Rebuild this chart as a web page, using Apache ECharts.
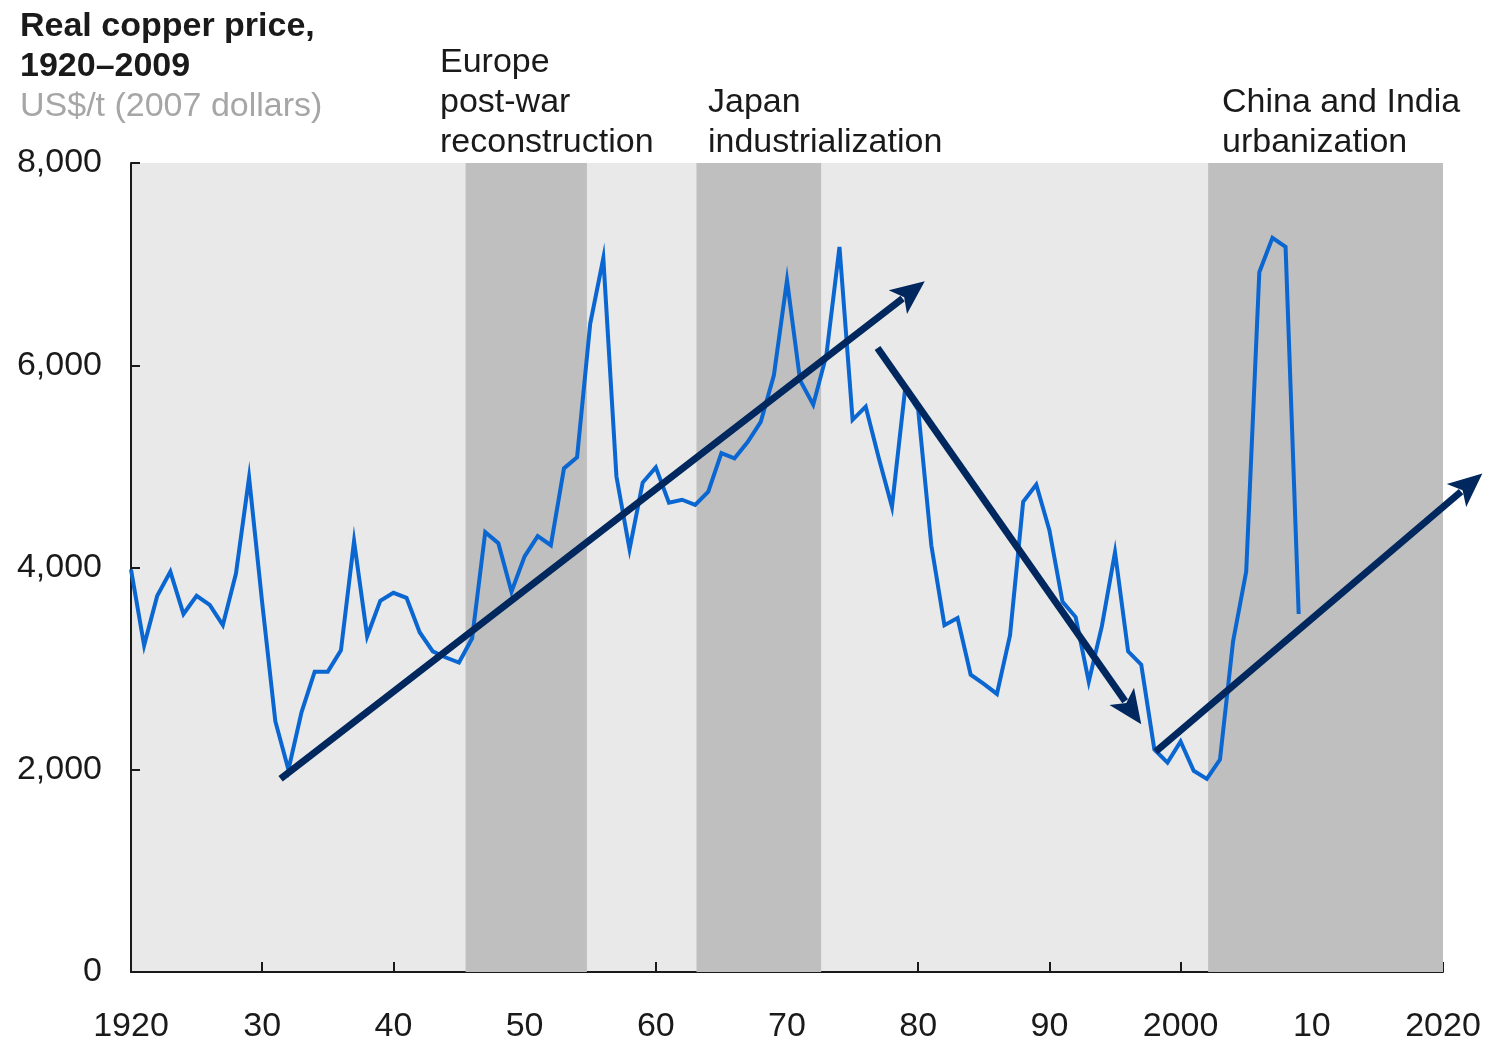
<!DOCTYPE html>
<html>
<head>
<meta charset="utf-8">
<script src="https://cdn.jsdelivr.net/npm/echarts@6/dist/echarts.min.js"></script>
<style>
html,body{margin:0;padding:0;background:#fff;}
#chart{width:1486px;height:1044px;}
</style>
</head>
<body>
<div id="chart"></div>
<script>
// ---- data ----
var years = [1920,1921,1922,1923,1924,1925,1926,1927,1928,1929,
             1930,1931,1932,1933,1934,1935,1936,1937,1938,1939,
             1940,1941,1942,1943,1944,1945,1946,1947,1948,1949,
             1950,1951,1952,1953,1954,1955,1956,1957,1958,1959,
             1960,1961,1962,1963,1964,1965,1966,1967,1968,1969,
             1970,1971,1972,1973,1974,1975,1976,1977,1978,1979,
             1980,1981,1982,1983,1984,1985,1986,1987,1988,1989,
             1990,1991,1992,1993,1994,1995,1996,1997,1998,1999,
             2000,2001,2002,2003,2004,2005,2006,2007,2008,2009];
var price = [3980,3230,3720,3960,3540,3720,3630,3430,3940,4890,
             3650,2480,2000,2570,2970,2970,3180,4260,3320,3670,
             3750,3700,3360,3170,3110,3060,3300,4350,4240,3760,
             4110,4310,4220,4980,5090,6410,7060,4900,4180,4840,
             4990,4640,4670,4620,4750,5130,5080,5240,5440,5900,
             6840,5850,5610,6100,7170,5460,5590,5080,4600,5760,
             5560,4220,3430,3500,2940,2850,2750,3330,4650,4820,
             4370,3660,3510,2870,3420,4150,3170,3040,2200,2070,
             2280,1990,1910,2100,3270,3960,6920,7260,7170,3540];
// shaded periods [startYear, endYear]
var periods = [[1945.5,1954.75],[1963.1,1972.6],[2002.1,2020]];
var periodLabels = ['Europe\npost-war\nreconstruction','Japan\nindustrialization','China and India\nurbanization'];
// trend arrows [x1, y1, x2, y2]
var arrows = [[1931.4,1910,1980.5,6830],[1976.9,6170,1997.0,2450],[1998.1,2180,2023.0,4930]];
var xTicks = {1920:'1920',1930:'30',1940:'40',1950:'50',1960:'60',1970:'70',1980:'80',1990:'90',2000:'2000',2010:'10',2020:'2020'};

var FONT = '"Liberation Sans", Arial, sans-serif';
var FS = 34;

var priceData = years.map(function(y,i){return [y, price[i]];});

var chart = echarts.init(document.getElementById('chart'));
var titles = [{
  left: 20, top: 7, padding: 0,
  text: '{b|Real copper price,}\n{b|1920–2009}\n{g|US$/t (2007 dollars)}',
  textStyle: {
    fontWeight: 'normal',
    rich: {
      b: {fontFamily: FONT, fontSize: FS, fontWeight: 'bold', color: '#1a1a1a', lineHeight: 40},
      g: {fontFamily: FONT, fontSize: FS, fontWeight: 'normal', color: '#a6a6a6', lineHeight: 40}
    }
  }
}];
var labelPos = [[440,43],[708,83],[1222,83]];
periodLabels.forEach(function(t,i){
  titles.push({
    left: labelPos[i][0], top: labelPos[i][1], padding: 0,
    text: t,
    textStyle: {fontFamily: FONT, fontSize: FS, fontWeight: 'normal', color: '#1a1a1a', lineHeight: 40}
  });
});

chart.setOption({
  animation: false,
  backgroundColor: '#ffffff',
  title: titles,
  grid: {left: 131, right: 43, top: 163, bottom: 72, show: true, backgroundColor: '#e9e9e9', borderWidth: 0},
  xAxis: {
    type: 'value', min: 1920, max: 2020, interval: 10,
    axisLine: {show: true, lineStyle: {color: '#1a1a1a', width: 2}},
    axisTick: {show: true, inside: true, length: 10, lineStyle: {color: '#1a1a1a', width: 2}},
    splitLine: {show: false},
    axisLabel: {margin: 38, fontFamily: FONT, fontSize: FS, color: '#1a1a1a',
      formatter: function(v){ return xTicks[v] || ''; }}
  },
  yAxis: {
    type: 'value', min: 0, max: 8000, interval: 2000,
    axisLine: {show: true, lineStyle: {color: '#1a1a1a', width: 2}},
    axisTick: {show: true, inside: true, length: 9, lineStyle: {color: '#1a1a1a', width: 2}},
    splitLine: {show: false},
    axisLabel: {margin: 29, fontFamily: FONT, fontSize: FS, color: '#1a1a1a',
      formatter: function(v){ return v.toLocaleString('en-US'); }}
  },
  series: [
    {
      type: 'line', z: 1, data: [], silent: true,
      markArea: {
        silent: true,
        itemStyle: {color: '#bfbfbf'},
        data: periods.map(function(p){ return [{xAxis: p[0]}, {xAxis: p[1]}]; })
      }
    },
    {
      type: 'line', z: 3, data: priceData, showSymbol: false, symbol: 'none',
      lineStyle: {color: '#0a66d0', width: 4, join: 'miter'}
    },
    {
      type: 'custom', z: 4, clip: false, data: arrows,
      encode: {x: [0,2], y: [1,3]},
      renderItem: function(params, api){
        var p1 = api.coord([api.value(0), api.value(1)]);
        var p2 = api.coord([api.value(2), api.value(3)]);
        var dx = p2[0]-p1[0], dy = p2[1]-p1[1];
        var len = Math.sqrt(dx*dx+dy*dy);
        var ux = dx/len, uy = dy/len;
        var nx = -uy, ny = ux;
        var L = 34, W = 15;
        var bx = p2[0]-ux*L, by = p2[1]-uy*L;
        var color = '#00285f';
        return {
          type: 'group',
          children: [
            {type: 'line', shape: {x1: p1[0], y1: p1[1], x2: bx+ux*6, y2: by+uy*6},
             style: {stroke: color, lineWidth: 7}},
            {type: 'polygon', shape: {points: [[p2[0],p2[1]],[bx+nx*W, by+ny*W],[bx+ux*8, by+uy*8],[bx-nx*W, by-ny*W]]},
             style: {fill: color}}
          ]
        };
      }
    }
  ]
});
</script>
</body>
</html>
